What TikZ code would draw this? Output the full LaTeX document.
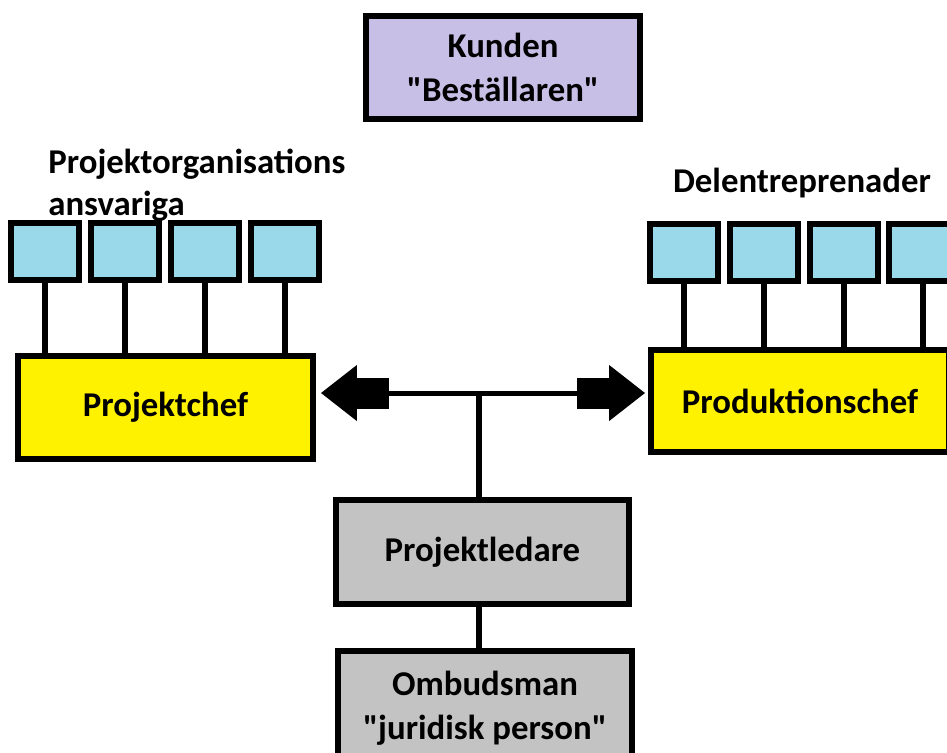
\documentclass[tikz,border=0pt]{standalone}
\usepackage{fontspec}
\setmainfont{Carlito}
\usetikzlibrary{arrows.meta}
\definecolor{lila}{HTML}{C8BFE7}
\definecolor{ljusbla}{HTML}{99D9EA}
\definecolor{gul}{HTML}{FFF200}
\definecolor{gra}{HTML}{C3C3C3}
\begin{document}
\begin{tikzpicture}[x=0.02cm,y=-0.02cm,
  ruta/.style={draw,line width=0.12cm,inner sep=0pt,align=center,
    font=\fontsize{19.8}{25}\selectfont\bfseries},
  liten/.style={draw,fill=ljusbla,line width=0.12cm,minimum width=1.36cm,
    minimum height=1.14cm,inner sep=0pt},
  rubrik/.style={inner sep=0pt,font=\fontsize{19.8}{24}\selectfont\bfseries},
  linje/.style={line width=0.11cm},
  pil/.style={line width=0.1cm,
    -{Rectangle[length=0.64cm,width=0.62cm,sep=0pt]Triangle[length=0.72cm,width=1.1cm]}}]
\useasboundingbox (0,0) rectangle (947,752);
\node[ruta,fill=lila,minimum width=5.48cm,minimum height=2.06cm] (kund) at (503,67.5) {Kunden\\\textquotedbl Beställaren\textquotedbl};
\node[rubrik,anchor=west,align=left] (porg) at (48,185) {Projektorganisations\\ansvariga};
\node[rubrik] (delent) at (802,183) {Delentreprenader};
\node[ruta,fill=gul,minimum width=5.9cm,minimum height=2.06cm] (pc) at (165.5,407.5) {Projektchef};
\node[ruta,fill=gul,minimum width=5.96cm,minimum height=2.04cm] (prc) at (800,401) {Produktionschef};
\node[ruta,fill=gra,minimum width=5.86cm,minimum height=2.08cm] (pl) at (482.5,552) {Projektledare};
\node[ruta,fill=gra,minimum width=5.88cm,minimum height=2.28cm] (omb) at (485,708) {Ombudsman\\\textquotedbl juridisk person\textquotedbl};
% ansvariga och delentreprenader
\foreach \i/\x in {1/45,2/125,3/205,4/285}{
  \node[liten] (v\i) at (\x,251.5) {};
  \draw[linje] (v\i.south) -- (v\i |- pc.north);
}
\foreach \i/\x in {1/684,2/764,3/844,4/923}{
  \node[liten] (h\i) at (\x,252.5) {};
  \draw[linje] (h\i.south) -- (h\i |- prc.north);
}
\coordinate (jn) at (479,393);
\draw[linje] (pl.north -| jn) -- (jn);
\draw[pil,shorten >=0.1cm] (jn) -- (jn -| pc.east);
\draw[pil,shorten >=0.06cm] (jn) -- (jn -| prc.west);
\draw[linje] (pl.south -| jn) -- (omb.north -| jn);
\end{tikzpicture}
\end{document}
